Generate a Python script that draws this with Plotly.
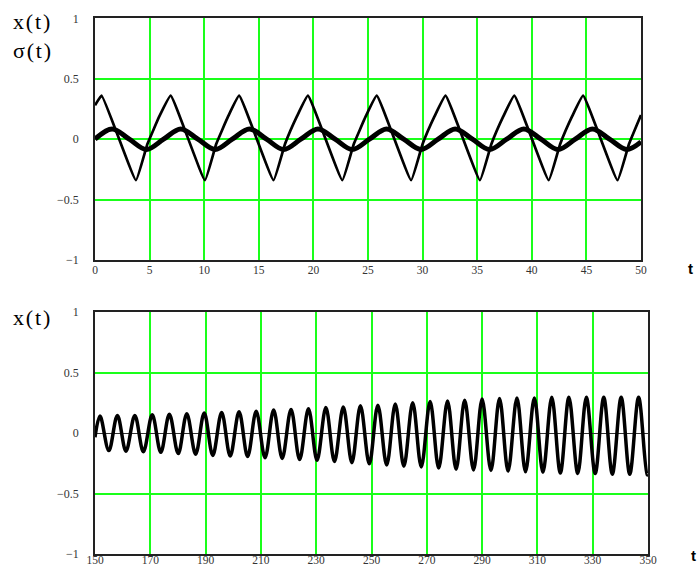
import plotly.graph_objects as go

# ---------------- data ----------------
# top panel: x(t) (piecewise, sharp peaks / troughs)
top_x_t = [0.0, 0.61, 3.75, 4.8, 5.9, 6.93, 10.07, 11.1, 12.2, 13.2, 16.35, 17.4, 18.5, 19.5,
           22.65, 23.7, 24.8, 25.8, 28.95, 30.0, 31.1, 32.1, 35.25, 36.3, 37.4, 38.4,
           41.55, 42.6, 43.7, 44.7, 47.85, 48.9, 50.0]
top_x_val = [0.28, 0.36, -0.34, -0.04, 0.19, 0.36, -0.34, -0.04, 0.19, 0.36, -0.34, -0.04, 0.19, 0.36,
             -0.34, -0.04, 0.19, 0.36, -0.34, -0.04, 0.19, 0.36, -0.34, -0.04, 0.19, 0.36,
             -0.34, -0.04, 0.19, 0.36, -0.34, -0.04, 0.20]

# top panel: sigma(t) (smooth, peaks / zero crossings)
sigma_t = [0.0, 1.57, 3.14, 4.71, 6.28, 7.85, 9.42, 11.0, 12.57, 14.14, 15.71, 17.28, 18.85,
           20.42, 21.99, 23.56, 25.13, 26.7, 28.27, 29.85, 31.42, 32.99, 34.56, 36.13, 37.7,
           39.27, 40.84, 42.41, 43.98, 45.55, 47.12, 48.69, 50.0]
sigma_val = [0.0, 0.085, 0.0, -0.085, 0.0, 0.085, 0.0, -0.085, 0.0, 0.085, 0.0, -0.085, 0.0,
             0.085, 0.0, -0.085, 0.0, 0.085, 0.0, -0.085, 0.0, 0.085, 0.0, -0.085, 0.0,
             0.085, 0.0, -0.085, 0.0, 0.085, 0.0, -0.085, -0.022]

# bottom panel: x(t) for t in [150, 350] (peaks and troughs of the oscillation)
bot_t = [150.0,
         151.8, 155.0, 158.1, 161.2, 164.4, 167.5, 170.7, 173.8, 176.9, 180.1, 183.2, 186.4,
         189.5, 192.6, 195.8, 198.9, 202.1, 205.2, 208.3, 211.5, 214.6, 217.7, 220.9, 224.0,
         227.2, 230.3, 233.5, 236.6, 239.8, 242.9, 246.0, 249.2, 252.3, 255.5, 258.6, 261.7,
         264.9, 268.0, 271.2, 274.3, 277.5, 280.6, 283.7, 286.9, 290.0, 293.2, 296.3, 299.4,
         302.6, 305.7, 308.9, 312.0, 315.2, 318.3, 321.4, 324.6, 327.7, 330.9, 334.0, 337.1,
         340.3, 343.4, 346.6, 349.7, 350.0]
bot_val = [-0.035,
           0.14, -0.145, 0.145, -0.15, 0.145, -0.155, 0.15, -0.16, 0.155, -0.17, 0.16, -0.175,
           0.165, -0.185, 0.17, -0.19, 0.175, -0.195, 0.18, -0.205, 0.19, -0.21, 0.195, -0.22,
           0.20, -0.225, 0.21, -0.235, 0.215, -0.245, 0.225, -0.255, 0.23, -0.265, 0.24, -0.275,
           0.25, -0.28, 0.26, -0.29, 0.265, -0.30, 0.27, -0.305, 0.28, -0.31, 0.285, -0.315,
           0.29, -0.32, 0.29, -0.325, 0.295, -0.33, 0.295, -0.335, 0.295, -0.335, 0.295, -0.34,
           0.295, -0.34, 0.295, -0.345, -0.345]

top_xticks = [0, 5, 10, 15, 20, 25, 30, 35, 40, 45, 50]
bot_xticks = [150, 170, 190, 210, 230, 250, 270, 290, 310, 330, 350]
y_ticks = [-1, -0.5, 0, 0.5, 1]
y_ticktext = ["\u22121", "\u22120.5", "0", "0.5", "1"]

GREEN = "#1aff1a"
TICKFONT = dict(family="Liberation Serif", size=12, color="#333333")
TICKFONT_X = dict(family="Liberation Serif", size=11.5, color="#333333")

fig = go.Figure()
fig.add_trace(go.Scatter(x=top_x_t, y=top_x_val, mode="lines",
                         line=dict(color="black", width=2.7, shape="spline", smoothing=0.3),
                         xaxis="x", yaxis="y",
                         showlegend=False, hoverinfo="skip"))
fig.add_trace(go.Scatter(x=sigma_t, y=sigma_val, mode="lines",
                         line=dict(color="black", width=5, shape="spline", smoothing=1.0),
                         xaxis="x", yaxis="y", showlegend=False, hoverinfo="skip"))
fig.add_trace(go.Scatter(x=bot_t, y=bot_val, mode="lines",
                         line=dict(color="black", width=3.5, shape="spline", smoothing=1.0),
                         xaxis="x2", yaxis="y2", showlegend=False, hoverinfo="skip"))

common_x = dict(showgrid=True, gridcolor=GREEN, gridwidth=1.5, zeroline=False, automargin=False,
                showline=True, mirror=True, linecolor="#222222", linewidth=1.5,
                ticks="", tickfont=TICKFONT_X)
common_y = dict(showgrid=True, gridcolor=GREEN, gridwidth=1.5, range=[-1, 1], automargin=False,
                tickvals=y_ticks, ticktext=y_ticktext,
                showline=True, mirror=True, linecolor="#222222", linewidth=1.5,
                ticks="outside", ticklen=12, tickcolor="rgba(0,0,0,0)", tickfont=TICKFONT)

fig.update_layout(
    width=700, height=566,
    margin=dict(l=0, r=0, t=0, b=0, autoexpand=False),
    paper_bgcolor="white", plot_bgcolor="white",
    xaxis=dict(domain=[95 / 700, 641 / 700], range=[0, 50], tickvals=top_xticks,
               anchor="y", ticklabelstandoff=-2, **common_x),
    yaxis=dict(domain=[(566 - 260) / 566, (566 - 18.3) / 566], anchor="x",
               zeroline=False, **common_y),
    xaxis2=dict(domain=[95 / 700, 648 / 700], range=[150, 350], tickvals=bot_xticks,
                anchor="y2", ticklabelstandoff=-6, **common_x),
    yaxis2=dict(domain=[(566 - 554) / 566, (566 - 312) / 566], anchor="x2",
                zeroline=True, zerolinecolor="#333333", zerolinewidth=1.2, **common_y),
)

title_font = dict(family="Liberation Serif", size=22, color="black")
axis_t_font = dict(family="Liberation Sans", size=15, color="black")
HS = "\u200a"
fig.add_annotation(text="x" + HS + "(" + HS + "t" + HS + ")", x=11, y=21, xref="paper", yref="paper",
                   showarrow=False, xanchor="left", yanchor="middle", font=title_font)
fig.add_annotation(text="\u03c3" + HS + "(" + HS + "t" + HS + ")", x=11, y=51, xref="paper", yref="paper",
                   showarrow=False, xanchor="left", yanchor="middle", font=title_font)
fig.add_annotation(text="x" + HS + "(" + HS + "t" + HS + ")", x=11, y=317, xref="paper", yref="paper",
                   showarrow=False, xanchor="left", yanchor="middle", font=title_font)
fig.add_annotation(text="<b>t</b>", x=690, y=268, xref="paper", yref="paper", showarrow=False,
                   xanchor="center", yanchor="middle", font=axis_t_font)
fig.add_annotation(text="<b>t</b>", x=693, y=555, xref="paper", yref="paper", showarrow=False,
                   xanchor="center", yanchor="middle", font=axis_t_font)

# convert pixel positions of annotations to paper fractions
for a in fig.layout.annotations:
    a.x = a.x / 700
    a.y = 1 - a.y / 566

fig.write_html("out.html")
